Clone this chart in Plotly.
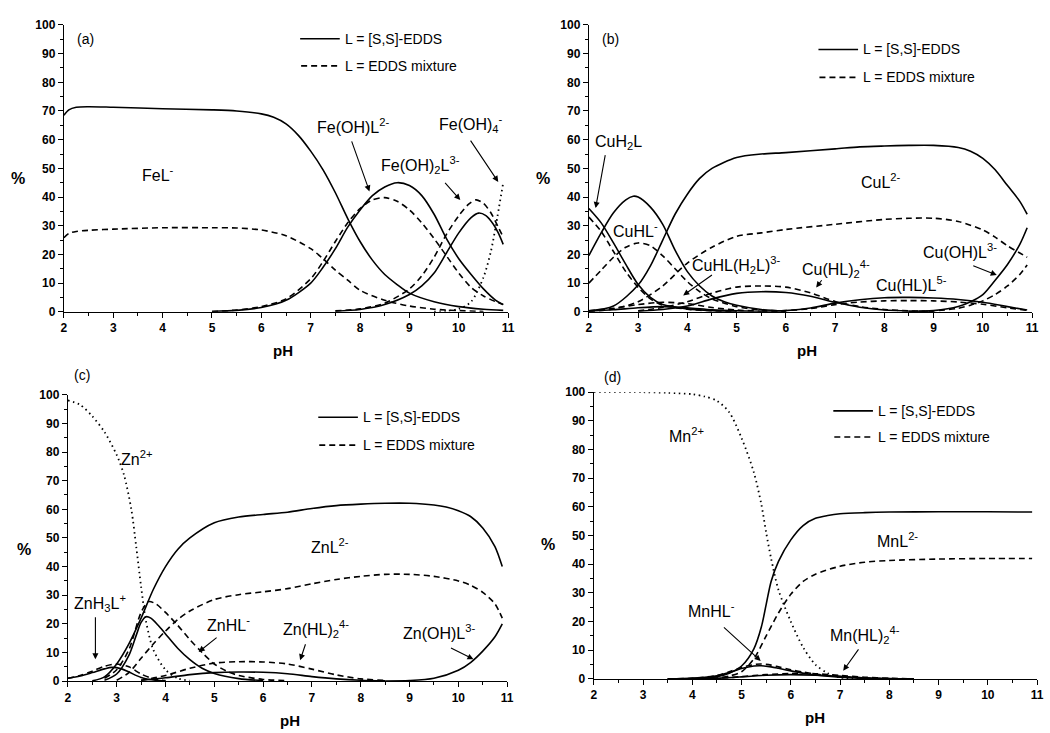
import plotly.graph_objects as go

# ---------------- Panel (a): Fe ----------------
FeL_SS_pH = [2.0, 2.1, 2.25, 2.5, 3.0, 4.0, 5.0, 5.5, 6.0, 6.25, 6.5, 6.75, 7.0, 7.25, 7.5, 7.75, 8.0, 8.25, 8.5, 8.75, 9.0, 9.5, 10.0, 10.5, 10.9]
FeL_SS = [68.5, 70.4, 71.3, 71.5, 71.3, 70.8, 70.4, 70.0, 69.0, 67.8, 65.5, 61.5, 56.0, 49.5, 41.5, 32.5, 24.5, 18.0, 13.0, 9.5, 6.5, 3.5, 1.8, 0.9, 0.5]
FeL_MIX_pH = [2.0, 2.1, 2.25, 2.5, 3.0, 4.0, 5.0, 5.5, 6.0, 6.5, 7.0, 7.25, 7.5, 7.75, 8.0, 8.5, 9.0, 9.5, 10.0, 10.5]
FeL_MIX = [25.8, 27.3, 28.0, 28.4, 28.8, 29.3, 29.3, 29.2, 28.5, 26.5, 22.0, 18.5, 14.5, 11.0, 7.5, 4.0, 2.0, 0.9, 0.4, 0.1]
FeOHL_pH = [5.0, 5.5, 6.0, 6.5, 7.0, 7.25, 7.5, 7.75, 8.0, 8.25, 8.5, 8.75, 9.0, 9.25, 9.5, 9.75, 10.0, 10.25, 10.5, 10.75, 10.9]
FeOHL_SS = [0.1, 0.5, 1.5, 4.0, 10.0, 15.5, 22.0, 29.5, 35.5, 40.5, 43.5, 45.0, 44.0, 40.5, 34.0, 25.5, 18.5, 13.0, 8.0, 4.0, 2.5]
FeOHL_MIX = [0.1, 0.6, 1.8, 4.5, 11.5, 17.5, 24.5, 31.0, 36.0, 39.0, 39.8, 38.5, 35.5, 31.0, 25.5, 19.5, 13.5, 8.5, 5.5, 3.5, 2.5]
FeOH2L_SS_pH = [7.5, 8.0, 8.5, 9.0, 9.25, 9.5, 9.75, 10.0, 10.25, 10.4, 10.55, 10.7, 10.8, 10.9]
FeOH2L_SS = [0.2, 0.8, 2.5, 6.0, 9.0, 13.5, 20.5, 27.5, 32.8, 34.4, 33.5, 30.5, 27.5, 23.5]
FeOH2L_MIX_pH = [7.5, 8.0, 8.5, 9.0, 9.25, 9.5, 9.75, 10.0, 10.2, 10.35, 10.5, 10.65, 10.8, 10.9]
FeOH2L_MIX = [0.3, 1.0, 3.0, 8.0, 12.5, 19.0, 27.0, 33.5, 37.5, 39.0, 37.8, 34.5, 29.5, 26.0]
FeOH4_pH = [9.5, 9.75, 10.0, 10.25, 10.5, 10.65, 10.75, 10.9]
FeOH4 = [0.0, 0.3, 1.0, 3.5, 12.0, 21.0, 30.0, 45.0]

# ---------------- Panel (b): Cu ----------------
CuH2L_pH = [2.0, 2.25, 2.5, 2.75, 3.0, 3.25, 3.5, 4.0, 4.5, 5.0]
CuH2L_SS = [36.0, 31.0, 24.0, 16.5, 9.5, 5.0, 2.5, 1.0, 0.4, 0.1]
CuH2L_MIX = [33.0, 28.0, 21.0, 14.0, 8.5, 4.5, 2.3, 0.9, 0.3, 0.1]
CuHL_SS_pH = [2.0, 2.25, 2.5, 2.75, 2.9, 3.0, 3.25, 3.5, 3.75, 4.0, 4.25, 4.5, 4.75, 5.0, 5.5, 6.0]
CuHL_SS = [19.6, 27.5, 34.5, 39.0, 40.3, 40.0, 36.5, 30.5, 21.5, 14.0, 9.0, 5.5, 3.5, 2.3, 0.8, 0.2]
CuHL_MIX_pH = [2.0, 2.25, 2.5, 2.75, 3.0, 3.25, 3.5, 3.75, 4.0, 4.25, 4.5, 5.0, 5.5, 6.0]
CuHL_MIX = [10.0, 14.5, 19.0, 22.5, 24.0, 23.0, 19.5, 15.0, 10.5, 7.0, 4.5, 1.8, 0.6, 0.2]
CuL_SS_pH = [2.0, 2.5, 3.0, 3.25, 3.5, 3.75, 4.0, 4.25, 4.5, 5.0, 5.5, 6.0, 7.0, 7.5, 8.0, 8.5, 9.0, 9.5, 9.75, 10.0, 10.25, 10.5, 10.75, 10.9]
CuL_SS = [0.3, 2.0, 9.3, 16.0, 25.0, 34.0, 41.0, 46.5, 50.0, 53.8, 55.0, 55.5, 56.8, 57.5, 57.8, 58.0, 58.0, 57.3, 56.0, 53.5, 49.5, 44.0, 38.5, 34.0]
CuL_MIX_pH = [2.0, 2.5, 3.0, 3.5, 4.0, 4.5, 5.0, 5.5, 6.0, 7.0, 8.0, 8.5, 9.0, 9.5, 10.0, 10.25, 10.5, 10.75, 10.9]
CuL_MIX = [0.1, 1.0, 3.5, 9.0, 17.0, 22.5, 26.3, 27.5, 28.7, 30.5, 32.2, 32.6, 32.6, 31.5, 28.5, 26.0, 23.0, 20.5, 19.0]
CuOHL_pH = [8.5, 9.0, 9.5, 9.75, 10.0, 10.25, 10.5, 10.75, 10.9]
CuOHL_SS = [0.1, 0.4, 1.8, 3.5, 6.0, 11.0, 16.5, 23.5, 29.3]
CuOHL_MIX = [0.1, 0.3, 1.2, 2.3, 3.8, 6.0, 9.0, 13.0, 16.3]
CuHLH2L_pH = [2.0, 2.5, 3.0, 3.5, 4.0, 4.5, 5.0, 5.5]
CuHLH2L_SS = [0.2, 0.7, 1.4, 1.8, 1.4, 0.7, 0.3, 0.1]
CuHLH2L_MIX = [0.3, 1.2, 2.5, 3.3, 2.8, 1.5, 0.6, 0.2]
CuHL2_pH = [3.0, 3.5, 4.0, 4.5, 5.0, 5.5, 6.0, 6.5, 7.0, 7.5, 8.0, 8.5, 9.0]
CuHL2_SS = [0.2, 0.8, 2.0, 4.5, 6.4, 7.0, 6.7, 5.4, 3.3, 1.6, 0.6, 0.2, 0.05]
CuHL2_MIX = [0.3, 1.5, 3.5, 6.5, 8.6, 9.0, 8.6, 6.6, 3.6, 1.8, 0.8, 0.3, 0.1]
CuHLL_pH = [5.5, 6.0, 6.5, 7.0, 7.5, 8.0, 8.5, 9.0, 9.5, 10.0, 10.5, 10.9]
CuHLL_SS = [0.1, 0.4, 1.3, 3.0, 4.2, 4.9, 5.0, 4.8, 4.3, 3.3, 1.8, 0.6]
CuHLL_MIX = [0.1, 0.4, 1.1, 2.5, 3.4, 3.8, 3.9, 3.8, 3.4, 2.6, 1.4, 0.5]

# ---------------- Panel (c): Zn ----------------
Zn_free_pH = [2.0, 2.25, 2.5, 2.75, 3.0, 3.15, 3.3, 3.4, 3.5, 3.6, 3.75, 4.0, 4.25, 4.5]
Zn_free = [98.0, 96.5, 92.5, 87.0, 79.0, 72.0, 60.0, 47.0, 33.0, 21.0, 11.0, 4.0, 1.0, 0.2]
ZnH3L_SS_pH = [2.0, 2.25, 2.5, 2.75, 2.9, 3.1, 3.25, 3.5, 3.75, 4.0]
ZnH3L_SS = [1.0, 1.8, 3.0, 4.3, 4.8, 4.3, 3.2, 1.3, 0.4, 0.1]
ZnH3L_MIX_pH = [2.0, 2.25, 2.5, 2.75, 3.0, 3.25, 3.5, 3.75, 4.0]
ZnH3L_MIX = [1.0, 2.0, 3.5, 5.2, 6.0, 5.0, 2.5, 0.8, 0.2]
ZnHL_SS_pH = [2.75, 3.0, 3.25, 3.4, 3.5, 3.6, 3.7, 3.85, 4.0, 4.25, 4.5, 4.75, 5.0, 5.5, 6.0]
ZnHL_SS = [0.3, 2.5, 9.0, 16.0, 20.5, 22.5, 22.0, 19.5, 16.5, 11.5, 7.5, 4.5, 2.7, 0.9, 0.2]
ZnHL_MIX_pH = [2.75, 3.0, 3.25, 3.5, 3.65, 3.8, 4.0, 4.25, 4.5, 4.75, 5.0, 5.25, 5.5, 6.0, 6.5]
ZnHL_MIX = [1.0, 4.0, 11.0, 24.0, 27.8, 27.0, 24.0, 19.5, 14.5, 10.0, 6.0, 3.5, 2.0, 0.6, 0.2]
ZnL_SS_pH = [2.5, 2.75, 3.0, 3.25, 3.5, 3.75, 4.0, 4.25, 4.5, 5.0, 5.5, 6.0, 6.5, 7.0, 7.5, 8.0, 8.5, 9.0, 9.5, 9.75, 10.0, 10.25, 10.5, 10.75, 10.9]
ZnL_SS = [0.1, 1.5, 6.0, 13.0, 22.0, 32.0, 40.0, 46.0, 50.0, 55.3, 57.3, 58.2, 59.0, 60.3, 61.3, 61.8, 62.1, 62.1, 61.5, 60.8, 59.5, 57.5, 53.5, 47.0, 40.0]
ZnL_MIX_pH = [3.0, 3.25, 3.5, 3.75, 4.0, 4.25, 4.5, 5.0, 5.5, 6.0, 6.5, 7.0, 7.5, 8.0, 8.5, 9.0, 9.5, 10.0, 10.25, 10.5, 10.75, 10.9]
ZnL_MIX = [0.3, 3.0, 8.0, 13.0, 17.5, 21.5, 24.5, 28.5, 30.2, 31.2, 32.3, 34.0, 35.5, 36.6, 37.3, 37.3, 36.6, 35.0, 33.5, 31.0, 27.0, 22.0]
ZnHL2_pH = [3.5, 4.0, 4.5, 5.0, 5.5, 6.0, 6.5, 7.0, 7.5, 8.0, 8.5]
ZnHL2_SS = [0.3, 1.2, 2.3, 3.0, 3.2, 3.1, 2.6, 1.6, 0.8, 0.3, 0.1]
ZnHL2_MIX = [0.3, 2.0, 4.5, 6.3, 6.8, 6.7, 6.0, 4.2, 2.2, 0.8, 0.3]
ZnOHL_pH = [8.5, 9.0, 9.5, 10.0, 10.25, 10.5, 10.75, 10.9]
ZnOHL_SS = [0.05, 0.2, 1.0, 3.8, 6.5, 10.5, 15.5, 20.0]

# ---------------- Panel (d): Mn ----------------
Mn_free_pH = [2.0, 3.0, 3.5, 4.0, 4.25, 4.5, 4.75, 5.0, 5.25, 5.4, 5.5, 5.6, 5.75, 6.0, 6.25, 6.5, 6.75, 7.0, 7.5]
Mn_free = [100.0, 100.0, 99.8, 99.3, 98.5, 97.0, 93.0, 84.0, 72.0, 61.0, 51.0, 42.0, 31.0, 20.0, 11.0, 5.0, 2.0, 0.5, 0.0]
MnL_SS_pH = [3.5, 4.0, 4.5, 4.75, 5.0, 5.25, 5.4, 5.5, 5.6, 5.75, 6.0, 6.25, 6.5, 6.75, 7.0, 7.5, 8.0, 9.0, 10.0, 10.9]
MnL_SS = [0.0, 0.2, 0.8, 2.0, 4.5, 10.5, 18.0, 26.0, 34.0, 41.0, 48.5, 53.5, 56.0, 57.0, 57.6, 58.0, 58.2, 58.3, 58.3, 58.2]
MnL_MIX_pH = [4.0, 4.5, 4.75, 5.0, 5.25, 5.5, 5.75, 6.0, 6.25, 6.5, 7.0, 7.5, 8.0, 9.0, 10.0, 10.9]
MnL_MIX = [0.1, 0.3, 1.0, 2.5, 7.0, 15.0, 23.0, 29.5, 34.0, 36.5, 39.3, 40.7, 41.3, 41.8, 42.0, 42.0]
MnHL_pH = [3.5, 4.0, 4.5, 4.75, 5.0, 5.25, 5.4, 5.6, 5.75, 6.0, 6.25, 6.5, 7.0, 7.5, 8.0]
MnHL_SS = [0.05, 0.2, 1.1, 2.2, 3.6, 4.5, 4.6, 4.2, 3.7, 2.8, 2.0, 1.4, 0.6, 0.2, 0.05]
MnHL_MIX = [0.05, 0.2, 1.2, 2.5, 4.0, 5.0, 5.2, 4.8, 4.2, 3.2, 2.4, 1.7, 0.8, 0.3, 0.1]
MnHL2_pH = [4.0, 4.5, 5.0, 5.5, 6.0, 6.5, 7.0, 7.5, 8.0, 8.5]
MnHL2_SS = [0.05, 0.2, 0.7, 1.3, 1.5, 1.3, 0.9, 0.4, 0.15, 0.05]
MnHL2_MIX = [0.05, 0.2, 0.8, 1.5, 1.9, 1.8, 1.2, 0.6, 0.2, 0.05]

LEGEND_TEXT = ["L = [S,S]-EDDS", "L = EDDS mixture"]
X_TICKS = list(range(2, 12))
Y_TICKS = list(range(0, 101, 10))

W, H = 1050, 733
FONT = "Liberation Sans"
DASH = "6px,4px"
DOT = "1.5px,3.5px"


def px(x):
    return x / W


def py(y):
    return 1 - y / H


# panel geometry in pixels: x0 (pH 2), x1 (pH 11), top (100 %), bottom (0 %)
PANELS = {
    "a": dict(x0=61.5, x1=510.0, top=18.3, bot=310.7, ax="x", ay="y"),
    "b": dict(x0=591.5, x1=1039.0, top=18.3, bot=310.7, ax="x2", ay="y2"),
    "c": dict(x0=65.5, x1=509.0, top=395.3, bot=687.3, ax="x3", ay="y3"),
    "d": dict(x0=596.5, x1=1044.0, top=392.7, bot=685.0, ax="x4", ay="y4"),
}

CURVES = {
    "a": [
        (FeL_SS_pH, FeL_SS, "solid"), (FeL_MIX_pH, FeL_MIX, DASH),
        (FeOHL_pH, FeOHL_SS, "solid"), (FeOHL_pH, FeOHL_MIX, DASH),
        (FeOH2L_SS_pH, FeOH2L_SS, "solid"), (FeOH2L_MIX_pH, FeOH2L_MIX, DASH),
        (FeOH4_pH, FeOH4, DOT),
    ],
    "b": [
        (CuH2L_pH, CuH2L_SS, "solid"), (CuH2L_pH, CuH2L_MIX, DASH),
        (CuHL_SS_pH, CuHL_SS, "solid"), (CuHL_MIX_pH, CuHL_MIX, DASH),
        (CuL_SS_pH, CuL_SS, "solid"), (CuL_MIX_pH, CuL_MIX, DASH),
        (CuOHL_pH, CuOHL_SS, "solid"), (CuOHL_pH, CuOHL_MIX, DASH),
        (CuHLH2L_pH, CuHLH2L_SS, "solid"), (CuHLH2L_pH, CuHLH2L_MIX, DASH),
        (CuHL2_pH, CuHL2_SS, "solid"), (CuHL2_pH, CuHL2_MIX, DASH),
        (CuHLL_pH, CuHLL_SS, "solid"), (CuHLL_pH, CuHLL_MIX, DASH),
    ],
    "c": [
        (Zn_free_pH, Zn_free, DOT),
        (ZnH3L_SS_pH, ZnH3L_SS, "solid"), (ZnH3L_MIX_pH, ZnH3L_MIX, DASH),
        (ZnHL_SS_pH, ZnHL_SS, "solid"), (ZnHL_MIX_pH, ZnHL_MIX, DASH),
        (ZnL_SS_pH, ZnL_SS, "solid"), (ZnL_MIX_pH, ZnL_MIX, DASH),
        (ZnHL2_pH, ZnHL2_SS, "solid"), (ZnHL2_pH, ZnHL2_MIX, DASH),
        (ZnOHL_pH, ZnOHL_SS, "solid"),
    ],
    "d": [
        (Mn_free_pH, Mn_free, DOT),
        (MnL_SS_pH, MnL_SS, "solid"), (MnL_MIX_pH, MnL_MIX, DASH),
        (MnHL_pH, MnHL_SS, "solid"), (MnHL_pH, MnHL_MIX, DASH),
        (MnHL2_pH, MnHL2_SS, "solid"), (MnHL2_pH, MnHL2_MIX, DASH),
    ],
}

fig = go.Figure()

for key, curves in CURVES.items():
    p = PANELS[key]
    for xs, ys, dash in curves:
        fig.add_trace(go.Scatter(
            x=xs, y=ys, mode="lines", xaxis=p["ax"], yaxis=p["ay"],
            line=dict(color="black", width=1.6 if dash != DOT else 1.8, dash=dash,
                      shape="spline", smoothing=0.8),
            hoverinfo="skip", showlegend=False))

tickfont = dict(family=FONT, size=12, color="black", weight="bold")
layout = dict(width=W, height=H, margin=dict(l=0, r=0, t=0, b=0),
              paper_bgcolor="white", plot_bgcolor="white", showlegend=False)

for key, p in PANELS.items():
    xname = "xaxis" if p["ax"] == "x" else "xaxis" + p["ax"][1:]
    yname = "yaxis" if p["ay"] == "y" else "yaxis" + p["ay"][1:]
    layout[xname] = dict(
        domain=[px(p["x0"]), px(p["x1"])], range=[2, 11], anchor=p["ay"],
        tickvals=X_TICKS, ticktext=[str(t) for t in X_TICKS],
        showline=True, linecolor="black", linewidth=1.3, ticks="outside",
        ticklen=5, tickwidth=1.2, tickcolor="black", showgrid=False,
        zeroline=False, tickfont=tickfont, fixedrange=True,
        minor=dict(dtick=0.5, tick0=2, ticks="outside", ticklen=3,
                   tickwidth=1, tickcolor="black", showgrid=False))
    layout[yname] = dict(
        domain=[py(p["bot"]), py(p["top"])], range=[0, 100], anchor=p["ax"],
        tickvals=Y_TICKS, ticktext=[str(t) for t in Y_TICKS],
        showline=True, linecolor="black", linewidth=1.3, ticks="outside",
        ticklen=5, tickwidth=1.2, tickcolor="black", showgrid=False,
        zeroline=False, tickfont=tickfont, fixedrange=True,
        minor=dict(dtick=5, tick0=0, ticks="outside", ticklen=3,
                   tickwidth=1, tickcolor="black", showgrid=False))

fig.update_layout(**layout)

annotations = []
shapes = []


def text(x, y, s, size=16, bold=False, xanchor="center"):
    annotations.append(dict(
        x=px(x), y=py(y), xref="paper", yref="paper", text=s, showarrow=False,
        xanchor=xanchor, yanchor="middle",
        font=dict(family=FONT, size=size, color="black",
                  weight="bold" if bold else "normal")))


def arrow(x_tail, y_tail, x_tip, y_tip):
    annotations.append(dict(
        x=px(x_tip), y=py(y_tip), xref="paper", yref="paper", text=" ",
        font=dict(size=1), showarrow=True, arrowhead=2, arrowsize=1.1,
        arrowwidth=1.1, arrowcolor="black", standoff=0, startstandoff=0,
        ax=x_tail - x_tip, ay=y_tail - y_tip))


def legend(x0, y_solid, y_dash):
    shapes.append(dict(type="line", xref="paper", yref="paper",
                       x0=px(x0), x1=px(x0 + 40), y0=py(y_solid), y1=py(y_solid),
                       line=dict(color="black", width=1.6)))
    shapes.append(dict(type="line", xref="paper", yref="paper",
                       x0=px(x0 + 1), x1=px(x0 + 40), y0=py(y_dash), y1=py(y_dash),
                       line=dict(color="black", width=1.6, dash=DASH)))
    text(x0 + 43, y_solid, LEGEND_TEXT[0], size=14, xanchor="left")
    text(x0 + 43, y_dash, LEGEND_TEXT[1], size=14, xanchor="left")


# axis titles
for (xp, yp), (xh, yh) in [((15, 175), (283, 350)), ((545, 175), (812, 350)),
                           ((21.7, 553), (290, 727)), ((550, 548), (820, 724))]:
    text(xp, yp, "%", size=16, bold=True)
    text(xh, yh, "pH", size=15, bold=True)

# panel tags
text(83, 33, "(a)", size=14)
text(613, 33, "(b)", size=14)
text(80, 375, "(c)", size=14)
text(615, 377, "(d)", size=14)

# legends
legend(300, 32.3, 60)
legend(823.3, 43.3, 71.7)
legend(318.3, 418.3, 446.7)
legend(838.3, 411.7, 438.3)

# panel (a) labels
text(156.7, 170, "FeL<sup>-</sup>")
text(353.3, 121, "Fe(OH)L<sup>2-</sup>")
arrow(351.5, 136, 370, 188)
text(422, 161, "Fe(OH)<sub>2</sub>L<sup>3-</sup>")
arrow(445, 178, 461.7, 196.7)
text(472, 119, "Fe(OH)<sub>4</sub><sup>-</sup>")
arrow(471, 135, 500, 178.3)

# panel (b) labels
text(621.7, 138, "CuH<sub>2</sub>L")
arrow(608.3, 150, 598.3, 205)
text(638.3, 227, "CuHL<sup>-</sup>")
text(886.7, 177, "CuL<sup>2-</sup>")
text(740, 263.3, "CuHL(H<sub>2</sub>L)<sup>3-</sup>")
arrow(717, 272.5, 686.7, 294)
text(841, 267, "Cu(HL)<sub>2</sub><sup>4-</sup>")
arrow(828, 276.7, 821, 286)
text(917, 282.5, "Cu(HL)L<sup>5-</sup>")
text(966.7, 249, "Cu(OH)L<sup>3-</sup>")
arrow(978.3, 263.3, 1003.3, 273.3)

# panel (c) labels
text(135, 460, "Zn<sup>2+</sup>")
text(330, 550, "ZnL<sup>2-</sup>")
text(97.5, 607.5, "ZnH<sub>3</sub>L<sup>+</sup>")
arrow(93.3, 621, 93.3, 665)
text(227.5, 629, "ZnHL<sup>-</sup>")
arrow(217, 642, 197.5, 657.5)
text(316, 634, "Zn(HL)<sub>2</sub><sup>4-</sup>")
arrow(306, 648, 300, 666)
text(440, 636.7, "Zn(OH)L<sup>3-</sup>")
arrow(451, 653, 475, 665)

# panel (d) labels
text(690, 436.7, "Mn<sup>2+</sup>")
text(903.3, 543.3, "MnL<sup>2-</sup>")
text(715, 615, "MnHL<sup>-</sup>")
arrow(726.7, 631.7, 765, 666.7)
text(870, 640, "Mn(HL)<sub>2</sub><sup>4-</sup>")
arrow(865, 653.3, 848.3, 676.7)

fig.update_layout(annotations=annotations, shapes=shapes)
fig.write_html("out.html")
